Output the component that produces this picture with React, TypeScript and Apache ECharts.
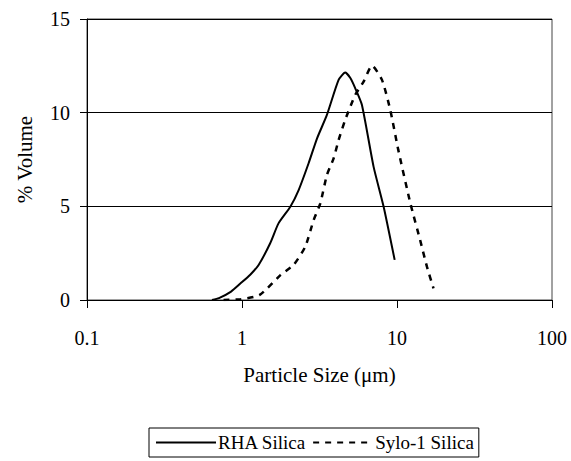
import React, { useEffect, useRef } from "react";
import * as echarts from "echarts";

const xTicks = [0.1, 1, 10, 100];
const yTicks = [0, 5, 10, 15];

const rhaSize = [0.64, 0.71, 0.85, 0.98, 1.13, 1.28, 1.52, 1.72, 2.05, 2.32, 2.69, 3.05, 3.53, 4.2, 4.63, 5.0, 5.38, 5.94, 7.06, 8.2, 9.66];
const rhaVolume = [0.0, 0.1, 0.45, 0.89, 1.35, 1.87, 3.03, 4.09, 4.98, 5.87, 7.3, 8.63, 9.88, 11.75, 12.14, 11.85, 11.3, 10.41, 7.12, 4.98, 2.14];

const syloSize = [0.76, 0.98, 1.3, 1.77, 2.15, 2.56, 2.9, 3.2, 3.53, 3.9, 4.2, 4.63, 5.38, 6.09, 6.9, 8.0, 9.05, 10.2, 12.2, 14.1, 15.6, 17.2];
const syloVolume = [0.0, 0.04, 0.27, 1.33, 1.87, 2.85, 4.27, 5.16, 6.67, 7.56, 8.54, 9.61, 10.95, 11.66, 12.51, 11.75, 10.14, 8.0, 5.16, 3.2, 1.78, 0.62];

const seriesNames = ["RHA Silica", "Sylo-1 Silica"];
const xTitle = "Particle Size (\u03bcm)";
const yTitle = "% Volume";

const FONT = "Liberation Serif, DejaVu Serif, serif";

export default function App() {
  const ref = useRef<HTMLDivElement>(null);
  useEffect(() => {
    if (!ref.current) return;
    const chart = echarts.init(ref.current, undefined, { renderer: "svg" });
    const pair = (xs: number[], ys: number[]) => xs.map((x, i) => [x, ys[i]]);
    chart.setOption({
      animation: false,
      backgroundColor: "#fff",
      textStyle: { fontFamily: FONT },
      grid: {
        left: 87,
        right: 19,
        top: 19,
        bottom: 161,
        show: true,
        borderColor: "#444",
        borderWidth: 1,
      },
      legend: {
        left: 149,
        top: 428,
        data: seriesNames,
        orient: "horizontal",
        itemWidth: 60,
        itemHeight: 12,
        itemGap: 6,
        padding: [5, 5, 5, 6],
        borderColor: "#000",
        borderWidth: 1,
        itemStyle: { opacity: 0 },
        textStyle: { fontFamily: FONT, fontSize: 19, color: "#000", padding: [0, 0, 0, -3] },
      },
      xAxis: {
        type: "log",
        logBase: 10,
        min: xTicks[0],
        max: xTicks[xTicks.length - 1],
        name: xTitle,
        nameLocation: "middle",
        nameGap: 64,
        nameTextStyle: { fontFamily: FONT, fontSize: 21, color: "#000" },
        axisLine: { show: true, lineStyle: { color: "#000", width: 1 } },
        axisTick: { show: true, length: 8, lineStyle: { color: "#000" } },
        minorTick: { show: false },
        splitLine: { show: false },
        axisLabel: {
          fontFamily: FONT,
          fontSize: 20,
          color: "#000",
          margin: 28,
          formatter: (v: number) => String(v),
        },
      },
      yAxis: {
        type: "value",
        min: yTicks[0],
        max: yTicks[yTicks.length - 1],
        interval: 5,
        name: yTitle,
        nameLocation: "middle",
        nameGap: 52,
        nameTextStyle: { fontFamily: FONT, fontSize: 21, color: "#000" },
        axisLine: { show: true, lineStyle: { color: "#000", width: 1 } },
        axisTick: { show: true, length: 7, lineStyle: { color: "#000" } },
        splitLine: { show: true, lineStyle: { color: "#000", width: 1 } },
        axisLabel: { fontFamily: FONT, fontSize: 20, color: "#000", margin: 17 },
      },
      series: [
        {
          name: seriesNames[0],
          type: "line",
          data: pair(rhaSize, rhaVolume),
          symbol: "none",
          smooth: 0.2,
          lineStyle: { color: "#000", width: 2, type: "solid" },
          itemStyle: { color: "#000" },
        },
        {
          name: seriesNames[1],
          type: "line",
          data: pair(syloSize, syloVolume),
          symbol: "none",
          smooth: 0.2,
          lineStyle: { color: "#000", width: 2.5, type: [6, 6] },
          itemStyle: { color: "#000" },
        },
      ],
    });
    return () => chart.dispose();
  }, []);
  return (
    <div
      ref={ref}
      style={{ position: "absolute", left: 0, top: 0, width: 571, height: 461, background: "#fff" }}
    />
  );
}
